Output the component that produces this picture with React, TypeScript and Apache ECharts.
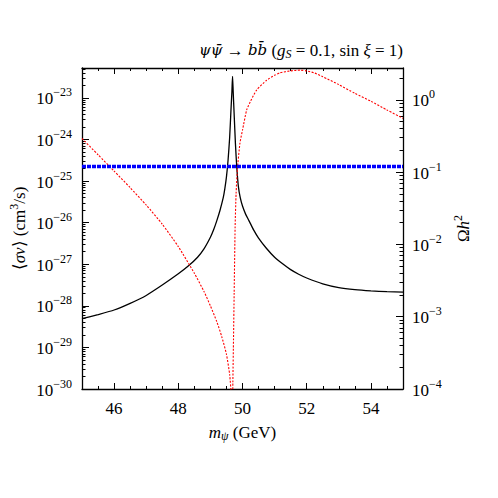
import React, { useEffect, useRef } from "react";
import * as echarts from "echarts";

// ---- data ----
// cross-section <σv> curve: mass (GeV) and log10(<σv> / cm^3 s^-1)
const massSigma = [
  45.0, 45.5, 46.0, 46.5, 47.0, 47.5, 48.0, 48.3, 48.6, 48.8, 49.0, 49.1, 49.2,
  49.3, 49.4, 49.45, 49.5, 49.55, 49.6, 49.64, 49.67, 49.69, 49.71, 49.74, 49.78,
  49.82, 49.87, 49.93, 50.0, 50.1, 50.2, 50.35, 50.5, 50.75, 51.0, 51.25, 51.5,
  51.75, 52.0, 52.5, 53.0, 53.5, 54.0, 54.5, 55.0,
];
const logSigmaV = [
  -28.31, -28.21, -28.1, -27.94, -27.75, -27.5, -27.23, -27.05, -26.83, -26.63,
  -26.35, -26.17, -25.95, -25.7, -25.4, -25.18, -24.9, -24.5, -23.95, -23.3,
  -22.85, -22.48, -22.85, -23.4, -24.1, -24.65, -25.12, -25.4, -25.6, -25.8,
  -25.95, -26.18, -26.37, -26.62, -26.83, -26.99, -27.13, -27.24, -27.33, -27.47,
  -27.56, -27.61, -27.64, -27.66, -27.67,
];
// relic density curve: mass (GeV) and log10(Ωh²)
const massOmega = [
  45.0, 45.5, 46.0, 46.5, 47.0, 47.5, 48.0, 48.5, 48.8, 49.0, 49.2, 49.35, 49.5,
  49.6, 49.65, 49.68, 49.7, 49.72, 49.74, 49.77, 49.8, 49.84, 49.92, 50.0, 50.13,
  50.25, 50.44, 50.75, 51.0, 51.17, 51.5, 51.8, 52.0, 52.25, 52.5, 53.0, 53.5,
  54.0, 54.5, 55.0,
];
const logOmega = [
  -0.535, -0.76, -0.985, -1.215, -1.455, -1.72, -2.03, -2.4, -2.65, -2.85, -3.07,
  -3.27, -3.52, -3.8, -4.1, -4.6, -3.9, -3.3, -2.68, -1.76, -1.3, -0.97, -0.6,
  -0.42, -0.14, -0.02, 0.135, 0.27, 0.34, 0.375, 0.4, 0.41, 0.4, 0.37, 0.32, 0.21,
  0.09, -0.02, -0.14, -0.256,
];
// observed relic density (horizontal band)
const omegaObserved = 0.12;
const xRange = [45, 55];
const xMajorTicks = [46, 48, 50, 52, 54];
const leftExpRange = [-30, -22.28];
const rightExpRange = [-4, 0.44];
const leftPowers = [-30, -29, -28, -27, -26, -25, -24, -23];
const rightPowers = [-4, -3, -2, -1, 0];

const FONT = "Liberation Serif";
const FONT_GREEK_BAR = "DejaVu Serif";

type Seg = { t: string; size?: number; it?: boolean; fam?: string; dy?: number };

function minorLogTicks(lo: number, hi: number): number[] {
  const out: number[] = [];
  for (let n = Math.floor(lo); n <= Math.ceil(hi); n++) {
    for (let k = 2; k <= 9; k++) {
      const v = n + Math.log10(k);
      if (v > lo && v < hi) out.push(v);
    }
  }
  return out;
}

const measureCtx = document.createElement("canvas").getContext("2d")!;
function segWidth(s: Seg): number {
  measureCtx.font = `${s.it ? "italic " : ""}${s.size ?? 17}px "${s.fam ?? FONT}"`;
  return measureCtx.measureText(s.t).width;
}
function runWidth(segs: Seg[]): number {
  return segs.reduce((a, s) => a + segWidth(s), 0);
}
function textEl(s: Seg, x: number, y: number): any {
  return {
    type: "text",
    x,
    y: y + (s.dy ?? 0),
    silent: true,
    style: {
      text: s.t,
      fontSize: s.size ?? 17,
      fontFamily: s.fam ?? FONT,
      fontStyle: s.it ? "italic" : "normal",
      fill: "#000",
      align: "left",
      textAlign: "left",
      verticalAlign: "middle",
      textVerticalAlign: "middle",
    },
  };
}
// lay a run of segments left to right starting at x0
function layRun(segs: Seg[], x0: number, y: number): any[] {
  const out: any[] = [];
  let x = x0;
  for (const s of segs) {
    out.push(textEl(s, x, y));
    x += segWidth(s);
  }
  return out;
}
const minus = (n: number) => (n < 0 ? "\u2212" + Math.abs(n) : String(n));
const powSegs = (n: number): Seg[] => [
  { t: "10", size: 17, dy: 1 },
  { t: minus(n), size: 12, dy: -5.5 },
];

export default function App() {
  const ref = useRef<HTMLDivElement>(null);
  useEffect(() => {
    document.body.style.margin = "0";
    const chart = echarts.init(ref.current!, null, { renderer: "svg" });
    const axisLine = { show: true, onZero: false, lineStyle: { color: "#000", width: 1.3 } };
    const noLine = { show: false, onZero: false };
    const tickStyle = { color: "#000", width: 1 };
    const option: any = {
      animation: false,
      backgroundColor: "#fff",
      grid: { left: 82, right: 95, top: 68, bottom: 109 },
      xAxis: [
        {
          type: "value",
          position: "bottom",
          min: xRange[0],
          max: xRange[1],
          interval: 0.5,
          axisLine,
          splitLine: { show: false },
          axisTick: { inside: true, length: 3, lineStyle: tickStyle },
          axisLabel: { show: false },
        },
        {
          type: "value",
          position: "bottom",
          min: xRange[0],
          max: xRange[1],
          axisLine: noLine,
          splitLine: { show: false },
          axisLabel: { show: false },
          axisTick: { inside: true, length: 6, customValues: xMajorTicks, lineStyle: tickStyle },
        },
        {
          type: "value",
          position: "top",
          min: xRange[0],
          max: xRange[1],
          interval: 0.5,
          axisLine,
          splitLine: { show: false },
          axisLabel: { show: false },
          axisTick: { inside: true, length: 3, lineStyle: tickStyle },
        },
        {
          type: "value",
          position: "top",
          min: xRange[0],
          max: xRange[1],
          axisLine: noLine,
          splitLine: { show: false },
          axisLabel: { show: false },
          axisTick: { inside: true, length: 6, customValues: xMajorTicks, lineStyle: tickStyle },
        },
      ],
      yAxis: [
        {
          type: "value",
          position: "left",
          min: leftExpRange[0],
          max: leftExpRange[1],
          interval: 1,
          axisLine,
          splitLine: { show: false },
          axisTick: { inside: true, length: 7, lineStyle: tickStyle },
          axisLabel: { show: false },
        },
        {
          type: "value",
          position: "left",
          min: leftExpRange[0],
          max: leftExpRange[1],
          axisLine: noLine,
          splitLine: { show: false },
          axisLabel: { show: false },
          axisTick: {
            inside: true,
            length: 3.5,
            customValues: minorLogTicks(leftExpRange[0], leftExpRange[1]),
            lineStyle: tickStyle,
          },
        },
        {
          type: "value",
          position: "right",
          min: rightExpRange[0],
          max: rightExpRange[1],
          interval: 1,
          axisLine,
          splitLine: { show: false },
          axisTick: { inside: true, length: 7, lineStyle: tickStyle },
          axisLabel: { show: false },
        },
        {
          type: "value",
          position: "right",
          min: rightExpRange[0],
          max: rightExpRange[1],
          axisLine: noLine,
          splitLine: { show: false },
          axisLabel: { show: false },
          axisTick: {
            inside: true,
            length: 3.5,
            customValues: minorLogTicks(rightExpRange[0], rightExpRange[1]),
            lineStyle: tickStyle,
          },
        },
      ],
      series: [
        {
          type: "line",
          xAxisIndex: 0,
          yAxisIndex: 0,
          data: massSigma.map((m, i) => [m, logSigmaV[i]]),
          showSymbol: false,
          smooth: 0.2,
          lineStyle: { color: "#000", width: 1.3 },
          clip: true,
        },
        {
          type: "line",
          xAxisIndex: 0,
          yAxisIndex: 2,
          data: massOmega.map((m, i) => [m, logOmega[i]]),
          showSymbol: false,
          smooth: 0.2,
          lineStyle: { color: "#ff0000", width: 1.1, type: [2, 1.5] },
          clip: true,
        },
        {
          type: "line",
          xAxisIndex: 0,
          yAxisIndex: 2,
          data: xRange.map((m) => [m, Math.log10(omegaObserved)]),
          showSymbol: false,
          lineStyle: { color: "#0000ff", width: 3.5, type: [4, 1] },
          clip: true,
        },
      ],
    };
    chart.setOption(option);

    // ---- texts, positioned through the axes' own scales ----
    const g: any[] = [];
    const gridLeft = chart.convertToPixel({ xAxisIndex: 0 }, xRange[0]) as number;
    const gridRight = chart.convertToPixel({ xAxisIndex: 0 }, xRange[1]) as number;
    const gridBottom = chart.convertToPixel({ yAxisIndex: 0 }, leftExpRange[0]) as number;
    const gridTop = chart.convertToPixel({ yAxisIndex: 0 }, leftExpRange[1]) as number;
    const midY = (gridTop + gridBottom) / 2;

    // left tick labels (right-aligned 10 px from the axis)
    for (const n of leftPowers) {
      const y = chart.convertToPixel({ yAxisIndex: 0 }, n) as number;
      const segs = powSegs(n);
      g.push(...layRun(segs, gridLeft - 10 - runWidth(segs), y));
    }
    // right tick labels
    for (const n of rightPowers) {
      const y = chart.convertToPixel({ yAxisIndex: 2 }, n) as number;
      g.push(...layRun(powSegs(n), gridRight + 9, y));
    }
    // x tick labels
    for (const v of xMajorTicks) {
      const x = chart.convertToPixel({ xAxisIndex: 0 }, v) as number;
      const s: Seg = { t: String(v), size: 17 };
      g.push(textEl(s, x - segWidth(s) / 2, gridBottom + 19));
    }
    // x axis name
    const xName: Seg[] = [
      { t: "m", it: true },
      { t: "ψ", it: true, size: 12, dy: 4 },
      { t: " (GeV)" },
    ];
    g.push(...layRun(xName, (gridLeft + gridRight) / 2 - runWidth(xName) / 2, gridBottom + 43));
    // title (right-aligned with the plot)
    const title: Seg[] = [
      { t: "ψψ\u0304", it: true, fam: FONT_GREEK_BAR, size: 15 },
      { t: " → " },
      { t: "bb\u0304", it: true, fam: FONT_GREEK_BAR, size: 15 },
      { t: " (" },
      { t: "g", it: true },
      { t: "S", it: true, size: 12, dy: 4 },
      { t: " = 0.1, sin " },
      { t: "ξ", it: true },
      { t: " = 1)" },
    ];
    g.push(...layRun(title, gridRight - runWidth(title), gridTop - 18));
    // rotated y names
    const leftName: Seg[] = [
      { t: "⟨" },
      { t: "σv", it: true },
      { t: "⟩ (cm" },
      { t: "3", size: 12, dy: -5.5 },
      { t: "/s)" },
    ];
    g.push({
      type: "group",
      x: 19,
      y: midY,
      rotation: Math.PI / 2,
      children: layRun(leftName, -runWidth(leftName) / 2, 0),
    });
    const rightName: Seg[] = [
      { t: "Ω" },
      { t: "h", it: true },
      { t: "2", size: 12, dy: -5.5 },
    ];
    g.push({
      type: "group",
      x: gridRight + 60,
      y: midY,
      rotation: Math.PI / 2,
      children: layRun(rightName, -runWidth(rightName) / 2, 0),
    });
    chart.setOption({ graphic: g });

    return () => chart.dispose();
  }, []);
  return (
    <div
      ref={ref}
      style={{ position: "fixed", left: 0, top: 0, width: 498, height: 498 }}
    />
  );
}
